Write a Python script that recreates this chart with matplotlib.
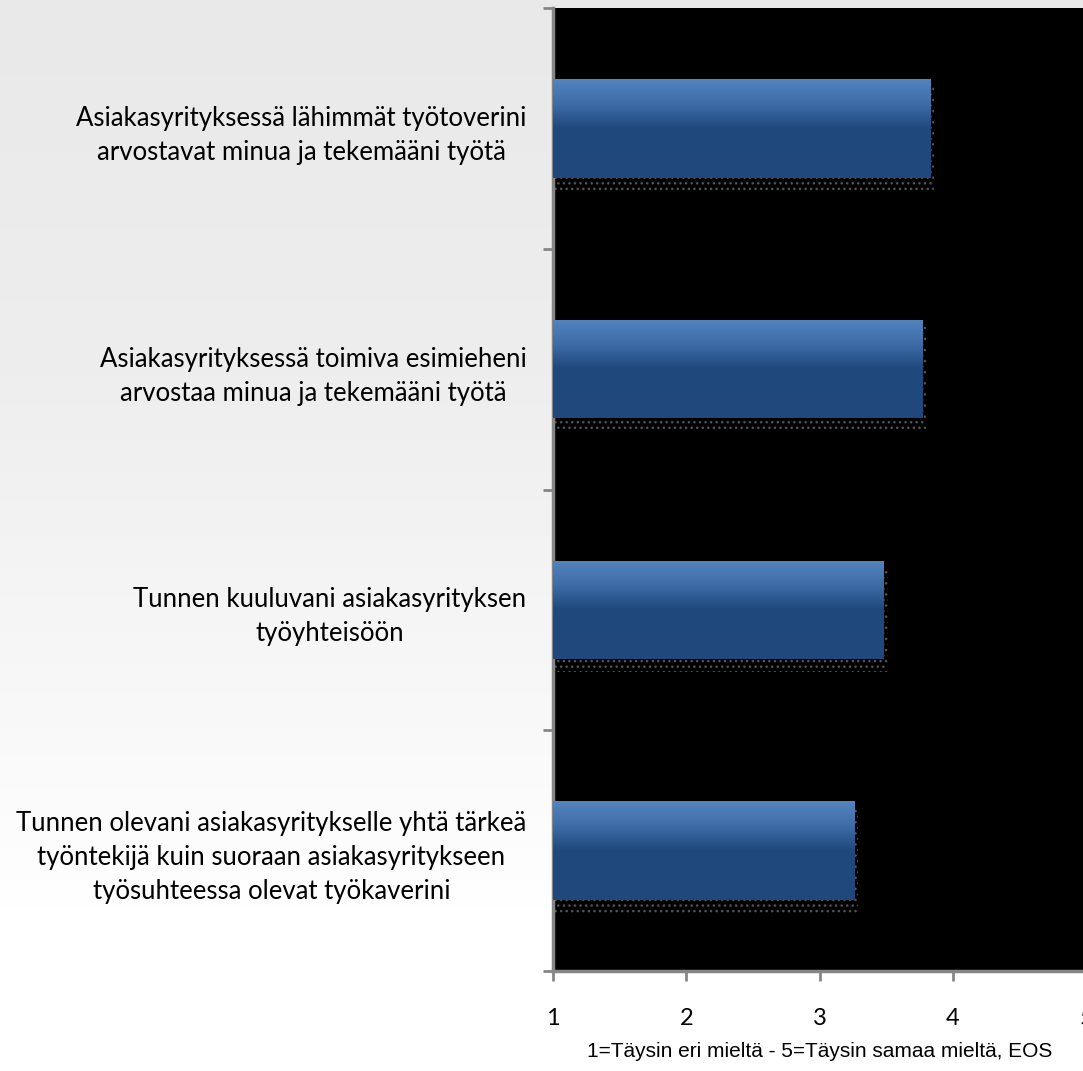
import numpy as np
import matplotlib.pyplot as plt
from matplotlib.colors import LinearSegmentedColormap
from matplotlib.patches import Rectangle

categories = [
    "Asiakasyrityksessä lähimmät työtoverini\narvostavat minua ja tekemääni työtä",
    "Asiakasyrityksessä toimiva esimieheni\narvostaa minua ja tekemääni työtä",
    "Tunnen kuuluvani asiakasyrityksen\ntyöyhteisöön",
    "Tunnen olevani asiakasyritykselle yhtä tärkeä\ntyöntekijä kuin suoraan asiakasyritykseen\ntyösuhteessa olevat työkaverini",
]
values = [3.83, 3.77, 3.48, 3.26]
xticks = [1, 2, 3, 4, 5]
xlabel = "1=Täysin eri mieltä - 5=Täysin samaa mieltä, EOS"

fig = plt.figure(figsize=(10.83, 10.71), dpi=100)

# background gradient, light grey at the top fading to white
bg = fig.add_axes([0, 0, 1, 1], zorder=-10)
grad = np.linspace(0, 1, 256).reshape(-1, 1)
bg_cmap = LinearSegmentedColormap.from_list(
    "bg", [(0, "#e9e9e9"), (0.35, "#eeeeee"), (0.65, "#f8f8f8"), (0.85, "#ffffff"), (1, "#ffffff")])
bg.imshow(grad, aspect="auto", cmap=bg_cmap, extent=[0, 1, 0, 1], origin="upper")
bg.axis("off")

ax = fig.add_axes([0.5106, 0.0934, 0.4925, 0.8991])
ax.set_facecolor("black")

y = np.arange(len(categories))
h = 0.41
bar_cmap = LinearSegmentedColormap.from_list(
    "bar", [(0, "#5384c0"), (0.25, "#3e6ca6"), (0.5, "#1f487c"), (1, "#21497d")])
bars = ax.barh(y, [v - 1 for v in values], left=1, height=h, color="none", zorder=3)
for b in bars:
    x0, y0 = b.get_x(), b.get_y()
    w, hh = b.get_width(), b.get_height()
    # dotted shadow under and to the right of the bar
    sh = Rectangle((x0 + 0.01, y0 + 0.03), w + 0.02, hh + 0.025, facecolor="none",
                   edgecolor="#555555", hatch="...", linewidth=0, zorder=2)
    ax.add_patch(sh)
    im = ax.imshow(np.linspace(0, 1, 100).reshape(-1, 1), cmap=bar_cmap, aspect="auto",
                   extent=[x0, x0 + w, y0 + hh, y0], origin="upper", zorder=3)
    im.set_clip_path(b)

ax.set_xlim(1, 5)
ax.set_ylim(len(categories) - 0.5, -0.5)

ax.set_xticks(xticks)
ax.set_xticklabels([str(t) for t in xticks], fontfamily="Lato", fontsize=17)
ax.set_yticks(y)
ax.set_yticklabels(categories, fontfamily="Lato", fontsize=18.5, multialignment="center",
                   linespacing=1.45)
ax.set_yticks(np.arange(len(categories) + 1) - 0.5, minor=True)
ax.tick_params(axis="y", which="major", length=0, pad=19)
ax.tick_params(axis="y", which="minor", length=7, width=2, color="#868686", direction="out")
ax.tick_params(axis="x", length=7, width=2, color="#868686", direction="out", pad=20)

ax.set_xlabel(xlabel, fontfamily="Liberation Sans", fontsize=15, labelpad=9)

for side in ["top", "right"]:
    ax.spines[side].set_visible(False)
for side in ["left", "bottom"]:
    ax.spines[side].set_color("#868686")
    ax.spines[side].set_linewidth(2.5)

fig.savefig("out.png", dpi=100)
